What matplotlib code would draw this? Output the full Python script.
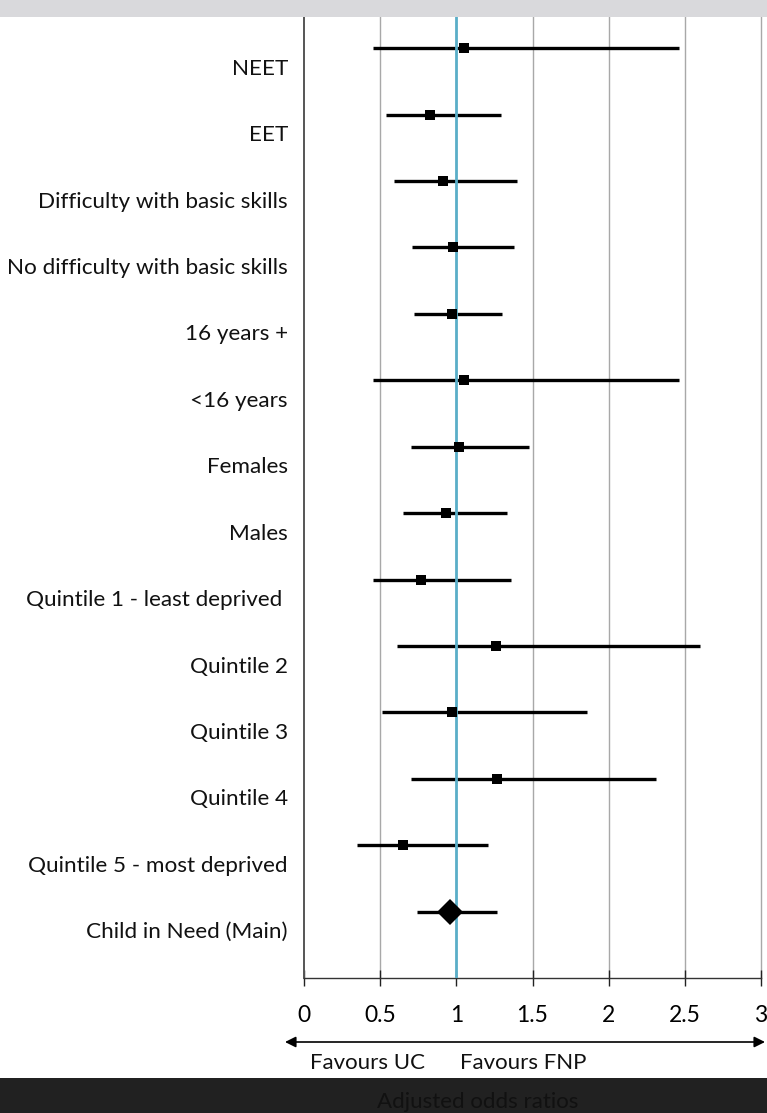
import matplotlib
matplotlib.use("Agg")
import matplotlib.pyplot as plt
from matplotlib.patches import Rectangle
import matplotlib.transforms as mtransforms

labels = ["NEET", "EET", "Difficulty with basic skills", "No difficulty with basic skills",
          "16 years +", "<16 years", "Females", "Males", "Quintile 1 - least deprived ",
          "Quintile 2", "Quintile 3", "Quintile 4", "Quintile 5 - most deprived",
          "Child in Need (Main)"]
odds = [1.05, 0.83, 0.91, 0.98, 0.97, 1.05, 1.02, 0.93, 0.77, 1.26, 0.97, 1.27, 0.65, 0.96]
lower = [0.45, 0.54, 0.59, 0.71, 0.72, 0.45, 0.70, 0.65, 0.45, 0.61, 0.51, 0.70, 0.35, 0.74]
upper = [2.46, 1.29, 1.40, 1.38, 1.30, 2.46, 1.48, 1.33, 1.36, 2.60, 1.86, 2.31, 1.21, 1.27]
xticks = [0, 0.5, 1, 1.5, 2, 2.5, 3]
xticklabels = ["0", "0.5", "1", "1.5", "2", "2.5", "3"]

FONT = "Lato"
W, H = 767, 1113
fig = plt.figure(figsize=(W / 100, H / 100), dpi=100)
fig.patch.set_facecolor("white")

# top grey band and bottom dark band (screenshot chrome)
fig.patches.append(Rectangle((0, 1 - 17 / H), 1, 17 / H, transform=fig.transFigure,
                             facecolor="#d9d9dc", edgecolor="none", zorder=0))
fig.patches.append(Rectangle((0, 0), 1, 35 / H, transform=fig.transFigure,
                             facecolor="#212121", edgecolor="none", zorder=0))

left, right, top, bottom = 304, 761, 9, 978
ax = fig.add_axes([left / W, 1 - bottom / H, (right - left) / W, (bottom - top) / H])
ax.patch.set_alpha(0)

n = len(labels)
ys = list(range(n))
ax.set_xlim(0, 3)
ax.set_ylim(14.0, -0.59)

for x in xticks[1:]:
    if x == 1:
        continue
    ax.axvline(x, color="#a8a8a8", lw=1.0, zorder=1, clip_on=False)
ax.axvline(1, color="#5aaec8", lw=2.0, zorder=4)

for i in range(n):
    ax.plot([lower[i], upper[i]], [ys[i], ys[i]], color="black", lw=2.4,
            solid_capstyle="butt", zorder=3)
    if i == n - 1:
        ax.plot(odds[i], ys[i], marker="D", color="black", markersize=13,
                markeredgewidth=0, zorder=5)
    else:
        ax.plot(odds[i], ys[i], marker="s", color="black", markersize=7,
                markeredgewidth=0, zorder=5)

for s in ["top", "right"]:
    ax.spines[s].set_visible(False)
ax.spines["left"].set_color("#555555")
ax.spines["left"].set_linewidth(1.4)
ax.spines["bottom"].set_color("#333333")
ax.spines["bottom"].set_linewidth(1.0)

ax.set_yticks([])
ax.set_xticks(xticks)
ax.set_xticklabels(xticklabels, fontsize=16.5, family=FONT)
ax.tick_params(axis="x", direction="inout", length=11, width=1.0, color="#222222", pad=14)

trans = mtransforms.blended_transform_factory(fig.transFigure, ax.transData)
for i in range(n):
    ax.text(288 / W, ys[i] + 0.31, labels[i], transform=trans, ha="right", va="center",
            fontsize=16.2, family=FONT, color="#111111")

# arrow and favours labels
ax.annotate("", xy=(765 / W, 1 - 1042 / H), xytext=(285 / W, 1 - 1042 / H),
            xycoords="figure fraction", textcoords="figure fraction",
            arrowprops=dict(arrowstyle="<|-|>", color="black", lw=1.2,
                            mutation_scale=16, shrinkA=0, shrinkB=0))
fig.text(368 / W, 1 - 1063 / H, "Favours UC", ha="center", va="center",
         fontsize=16, family=FONT, color="#111111")
fig.text(523 / W, 1 - 1063 / H, "Favours FNP", ha="center", va="center",
         fontsize=16, family=FONT, color="#111111")
fig.text(478 / W, 1 - 1102 / H, "Adjusted odds ratios", ha="center", va="center",
         fontsize=16, family=FONT, color="#111111")

fig.savefig("out.png", dpi=100)
